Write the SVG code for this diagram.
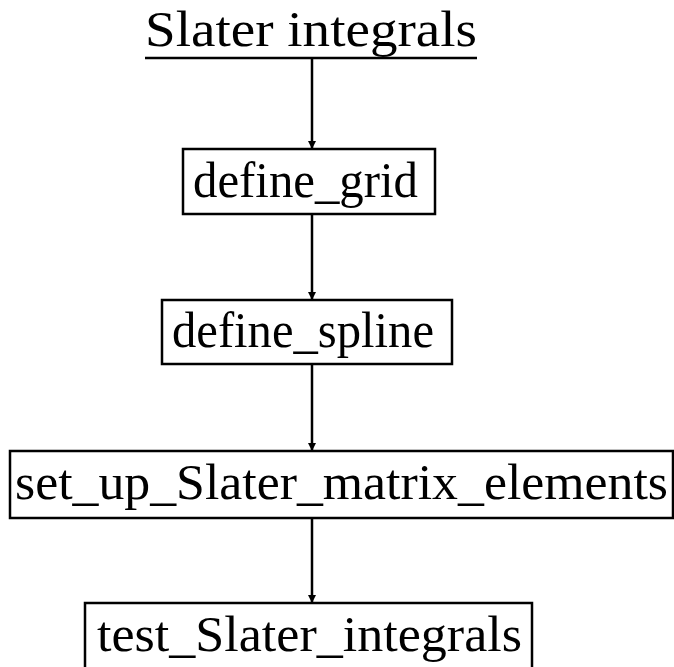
<svg xmlns="http://www.w3.org/2000/svg" width="674" height="667" viewBox="0 0 674 667">
<style>
text{font-family:"Liberation Serif","DejaVu Serif",serif;font-size:50px;fill:#000}
.box{fill:#fff;stroke:#000;stroke-width:2.5}
.edge{stroke:#000;stroke-width:2.5;fill:none}
</style>
<defs>
<marker id="ah" markerWidth="8" markerHeight="10" refX="8" refY="4" orient="auto" markerUnits="userSpaceOnUse">
<path d="M0,0 L8,4 L0,8 Z" fill="#000"/>
</marker>
</defs>
<rect width="674" height="667" fill="#fff"/>
<g id="connectors">
<line class="edge" x1="312" y1="59" x2="312" y2="149" marker-end="url(#ah)"/>
<line class="edge" x1="312" y1="214" x2="312" y2="300" marker-end="url(#ah)"/>
<line class="edge" x1="312" y1="364" x2="312" y2="451" marker-end="url(#ah)"/>
<line class="edge" x1="312" y1="518" x2="312" y2="603" marker-end="url(#ah)"/>
</g>
<g id="title">
<text x="145" y="46" textLength="332" lengthAdjust="spacingAndGlyphs">Slater integrals</text>
<line x1="145" y1="58" x2="477" y2="58" stroke="#000" stroke-width="2.5"/>
</g>
<g id="define_grid">
<rect class="box" x="183" y="149" width="252" height="65"/>
<text x="193" y="197" textLength="225" lengthAdjust="spacingAndGlyphs">define_grid</text>
</g>
<g id="define_spline">
<rect class="box" x="162" y="300" width="290" height="64"/>
<text x="172" y="347" textLength="262" lengthAdjust="spacingAndGlyphs">define_spline</text>
</g>
<g id="set_up_Slater_matrix_elements">
<rect class="box" x="10" y="451" width="663" height="67"/>
<text x="15" y="499" textLength="653" lengthAdjust="spacingAndGlyphs">set_up_Slater_matrix_elements</text>
</g>
<g id="test_Slater_integrals">
<rect class="box" x="85" y="603" width="447" height="80"/>
<text x="97" y="651" textLength="425" lengthAdjust="spacingAndGlyphs">test_Slater_integrals</text>
</g>
</svg>
